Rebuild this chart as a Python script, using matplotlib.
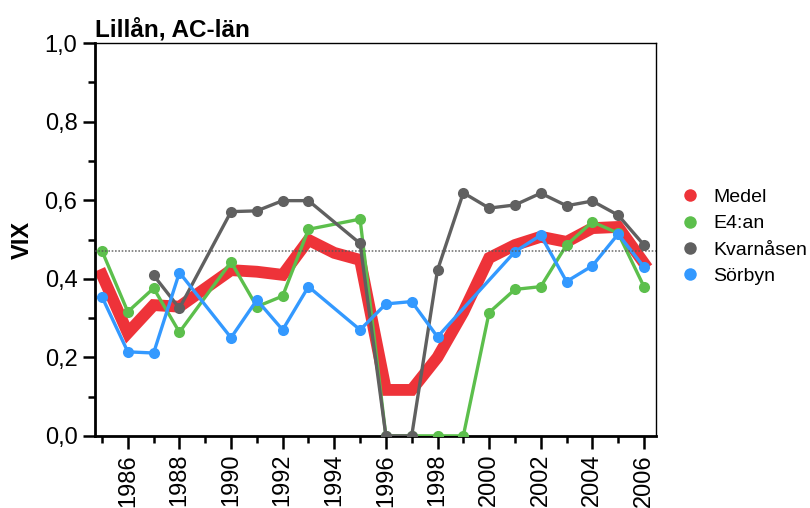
import numpy as np
import matplotlib
matplotlib.use("Agg")
import matplotlib.pyplot as plt
from matplotlib.ticker import MultipleLocator, FuncFormatter
from matplotlib.lines import Line2D

plt.rcParams['font.family'] = ['Liberation Sans', 'DejaVu Sans']

title = "Lillån, AC-län"
ylabel = "VIX"
reference_level = 0.47

years = list(range(1985, 2007))
NA = None
medel = [0.41, 0.262, 0.333, 0.329, NA, 0.422, 0.418, 0.41, 0.499, 0.466, 0.448,
         0.117, 0.117, 0.20, 0.315, 0.453, 0.486, 0.507, 0.494, 0.529, 0.532, 0.44]
e4an = [0.471, 0.316, 0.376, 0.264, NA, 0.443, 0.329, 0.356, 0.526, NA, 0.552,
        0.0, 0.0, 0.0, 0.0, 0.314, 0.373, 0.38, 0.486, 0.545, 0.516, 0.38]
kvarnasen = [NA, NA, 0.409, 0.325, NA, 0.571, 0.573, 0.599, 0.599, NA, 0.49,
             0.0, 0.0, 0.422, 0.619, 0.58, 0.588, 0.618, 0.586, 0.598, 0.562, 0.486]
sorbyn = [0.354, 0.214, 0.211, 0.416, NA, 0.25, 0.346, 0.27, 0.38, NA, 0.27,
          0.336, 0.342, 0.252, NA, NA, 0.469, 0.511, 0.393, 0.433, 0.514, 0.43]

series = [
    ("Medel", medel, "#EE3339"),
    ("E4:an", e4an, "#5CBF4C"),
    ("Kvarnåsen", kvarnasen, "#606060"),
    ("Sörbyn", sorbyn, "#3399FF"),
]

fig = plt.figure(figsize=(8.1, 5.08), dpi=100)
ax = fig.add_axes([0.117, 0.142, 0.693, 0.773])

yrs = np.array(years, dtype=float)
for name, vals, col in series:
    v = np.array([np.nan if x is None else x for x in vals], dtype=float)
    m = ~np.isnan(v)
    if name == "Medel":
        ax.plot(yrs[m], v[m], color=col, lw=8.5, solid_joinstyle='miter', zorder=2)
    else:
        ax.plot(yrs[m], v[m], color=col, lw=2.4, marker='o', ms=8,
                markeredgewidth=0, zorder=3)

ax.axhline(reference_level, color='#555555', lw=1.2, ls=(0, (1, 1)), alpha=0.8, zorder=4)

ax.set_xlim(1984.72, 2006.47)
ax.set_ylim(0, 1.0)
ax.xaxis.set_minor_locator(MultipleLocator(1))
ax.yaxis.set_major_locator(MultipleLocator(0.2))
ax.yaxis.set_minor_locator(MultipleLocator(0.1))
ax.yaxis.set_major_formatter(FuncFormatter(lambda v, p: f"{v:.1f}".replace('.', ',')))
ax.set_xticks([1986 + 2 * i for i in range(11)])
ax.xaxis.set_major_formatter(FuncFormatter(lambda v, p: f"{int(round(v))}"))
for lbl in ax.get_xticklabels():
    lbl.set_rotation(90)

ax.tick_params(axis='both', which='major', direction='out', length=9, width=1.8, labelsize=17, colors='black')
ax.tick_params(axis='both', which='minor', direction='out', length=5, width=1.8)
ax.tick_params(axis='x', which='major', pad=4)

for s in ['left', 'bottom']:
    ax.spines[s].set_linewidth(2)
for s in ['top', 'right']:
    ax.spines[s].set_linewidth(1)

ax.set_ylabel(ylabel, fontsize=17, fontweight='bold', labelpad=8)
ax.set_title(title, fontsize=17.5, fontweight='bold', loc='left', pad=5)

handles = [Line2D([], [], ls='none', marker='o', ms=9, color=c, markeredgewidth=0) for _, _, c in series]
labels = [n for n, _, _ in series]
fig.legend(handles, labels, loc='center left', bbox_to_anchor=(0.818, 0.534),
           frameon=False, fontsize=14, handletextpad=0.7, labelspacing=0.45,
           handlelength=1.0)

fig.savefig("out.png", dpi=100)
